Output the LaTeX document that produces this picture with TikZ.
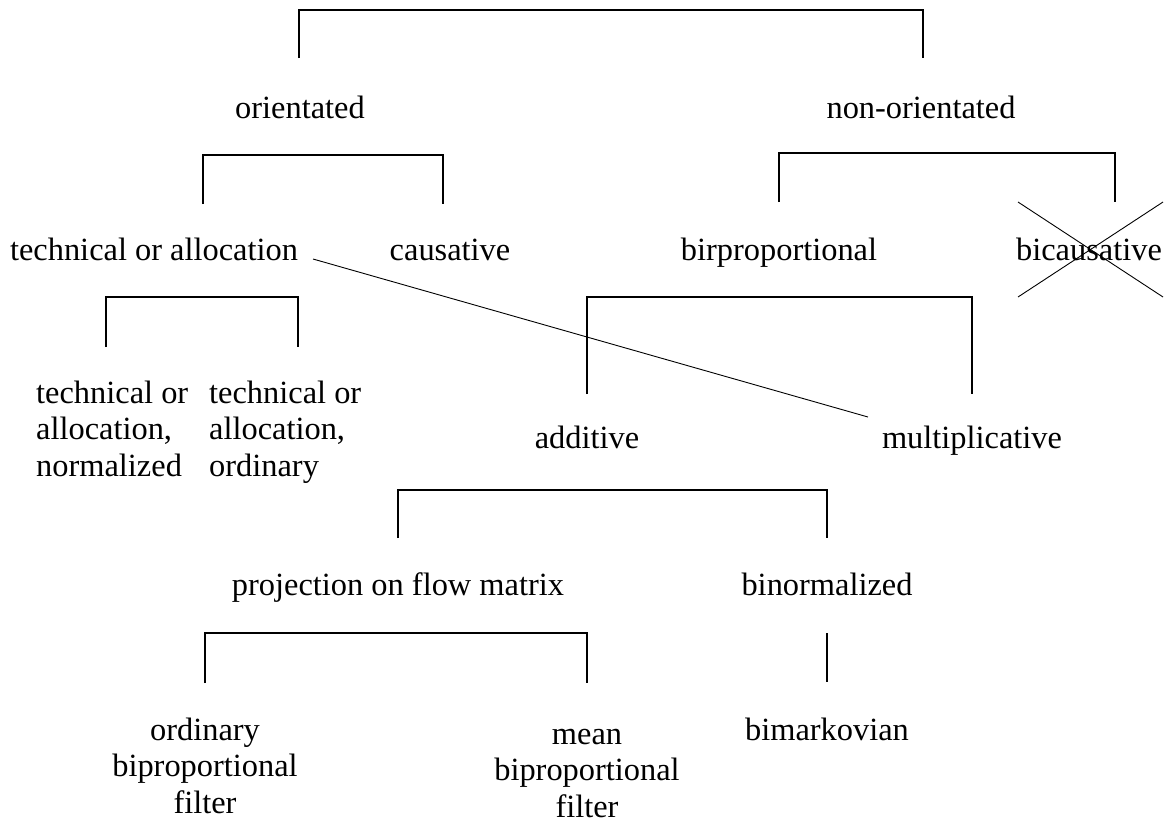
\documentclass[tikz,border=0pt]{standalone}
\usepackage{fontspec}
\setmainfont{Liberation Serif}
\begin{document}
\begin{tikzpicture}[x=1pt,y=-1pt,
  lbl/.style={anchor=base, inner sep=0pt, font=\fontsize{32.4}{36.5}\selectfont},
  mleft/.style={lbl, align=left, anchor=base west},
  mcenter/.style={lbl, align=center},
  bracket/.style={line width=2.4pt, line join=miter},
  thinline/.style={line width=0.9pt}]
\useasboundingbox (0,0) rectangle (1174,828);
% labels
\node[lbl] (ori) at (300,118) {orientated};
\node[lbl] (nonori) at (921,118) {non-orientated};
\node[lbl] (tech) at (154,260) {technical or allocation};
\node[lbl] (caus) at (450,260) {causative};
\node[lbl] (birp) at (779,260) {birproportional};
\node[lbl] (bicaus) at (1089,260) {bicausative};
\node[mleft] (technorm) at (36,476) {technical or\\allocation,\\normalized};
\node[mleft] (techord) at (209,476) {technical or\\allocation,\\ordinary};
\node[lbl] (add) at (587,448) {additive};
\node[lbl] (mult) at (972,448) {multiplicative};
\node[lbl] (proj) at (398,595) {projection on flow matrix};
\node[lbl] (binorm) at (827,595) {binormalized};
\node[mcenter] (obf) at (205,813) {ordinary\\biproportional\\filter};
\node[mcenter] (mbf) at (587,817) {mean\\biproportional\\filter};
\node[lbl] (bimark) at (827,740) {bimarkovian};
% bracket corners
\coordinate (b1l) at (299,58); \coordinate (b1r) at (923,58); \coordinate (b1t) at (0,10);
\coordinate (b2l) at (203,204); \coordinate (b2r) at (443,204); \coordinate (b2t) at (0,155);
\coordinate (b3l) at (779,202); \coordinate (b3r) at (1115,202); \coordinate (b3t) at (0,153);
\coordinate (b4l) at (106,347); \coordinate (b4r) at (298,347); \coordinate (b4t) at (0,297);
\coordinate (b5l) at (587,394); \coordinate (b5r) at (972,394); \coordinate (b5t) at (0,297);
\coordinate (b6l) at (398,538); \coordinate (b6r) at (827,538); \coordinate (b6t) at (0,490);
\coordinate (b7l) at (205,683); \coordinate (b7r) at (587,683); \coordinate (b7t) at (0,633);
\coordinate (s1t) at (827,633); \coordinate (s1b) at (827,682);
\foreach \b in {b1,b2,b3,b4,b5,b6,b7}{
  \draw[bracket] (\b l) -- (\b l |- \b t) -- (\b r |- \b t) -- (\b r);
}
\draw[bracket] (s1t) -- (s1b);
% cross-reference line
\coordinate (dstart) at (313,259);
\coordinate (dend) at (868,417);
\draw[thinline] (dstart) -- (dend);
% cross over bicausative
\coordinate (xa) at (1018,202); \coordinate (xb) at (1163,297);
\coordinate (xc) at (1018,297); \coordinate (xd) at (1163,202);
\draw[thinline] (xa) -- (xb);
\draw[thinline] (xc) -- (xd);
\end{tikzpicture}
\end{document}
